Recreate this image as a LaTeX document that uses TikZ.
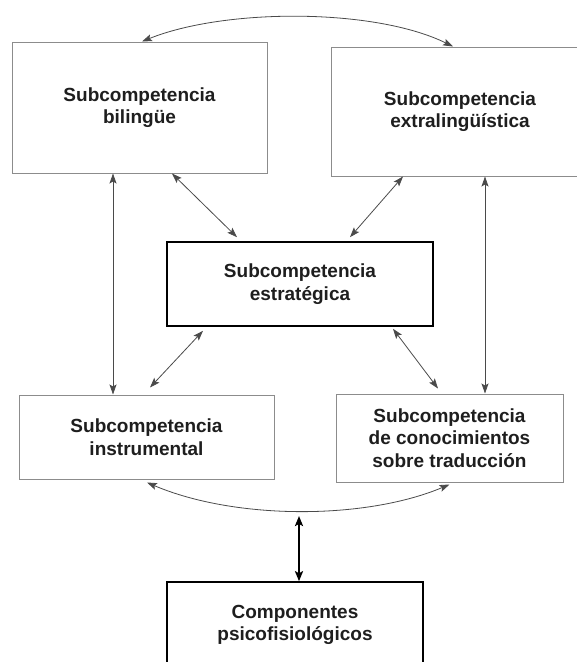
\documentclass[tikz,border=0pt]{standalone}
\usepackage{fontspec}
\setmainfont{Liberation Sans}
\usetikzlibrary{arrows.meta}
\definecolor{boxgray}{HTML}{8C8C8C}
\definecolor{linegray}{HTML}{4A4A4A}
\definecolor{inkdark}{HTML}{1E1E1E}
\tikzset{
every node/.style=
    {rectangle,
    align=center,
    text=inkdark,
    inner sep=0pt,
    font=\bfseries\fontsize{19}{22.5}\selectfont
    },
box/.style=
    {draw=boxgray,
    line width=1pt
    },
strongbox/.style=
    {draw=black,
    line width=1.6pt
    },
link/.style=
    {draw=linegray,
    line width=0.8pt,
    >={Stealth[length=10pt,width=7pt,inset=2pt]},
    <->
    },
biglink/.style=
    {draw=black,
    line width=2.4pt,
    >={Stealth[length=10pt,width=8pt,inset=2pt]},
    <->
    }}

\begin{document}
\begin{tikzpicture}[x=1pt,y=-1pt]
\useasboundingbox (0,0) rectangle (577,662);
\node[box,minimum width=255pt,minimum height=131pt] (bil) at (139.5,107.5) {Subcompetencia\\bilingüe};
\node[box,minimum width=258pt,minimum height=129pt] (ext) at (460,111.5) {Subcompetencia\\extralingüística};
\node[strongbox,minimum width=266pt,minimum height=84pt] (est) at (300,284) {Subcompetencia\\estratégica};
\node[box,minimum width=255pt,minimum height=84pt] (ins) at (146.5,437) {Subcompetencia\\instrumental};
\node[box,minimum width=227pt,minimum height=88pt] (con) at (449.5,438) {Subcompetencia\\de conocimientos\\sobre traducción};
\node[strongbox,minimum width=256pt,minimum height=86pt] (com) at (295,625) {Componentes\\psicofisiológicos};
\coordinate (hub) at (299,516);

\draw[link] ([xshift=2.5pt]bil.north) .. controls (225,8) and (375,8) .. ([xshift=-7pt]ext.north);
\draw[link] ([xshift=-26.5pt]bil.south) -- ([xshift=-33.5pt]ins.north);
\draw[link] ([xshift=25pt]ext.south) -- ([xshift=35.5pt]con.north);
\draw[link] ([xshift=32.5pt]bil.south) -- ([xshift=-63pt,yshift=4pt]est.north);
\draw[link] ([xshift=-57pt]ext.south) -- ([xshift=50pt,yshift=4pt]est.north);
\draw[link] ([xshift=-97pt,yshift=-4pt]est.south) -- ([xshift=3.5pt,yshift=7pt]ins.north);
\draw[link] ([xshift=93pt,yshift=-2pt]est.south) -- ([xshift=-11.5pt,yshift=5pt]con.north);
\draw[link] ([xshift=0.5pt,yshift=-3pt]ins.south) .. controls (235,520) and (365,520) .. ([yshift=-2pt]con.south);
\draw[biglink] (hub) -- ([xshift=4pt]com.north);

\end{tikzpicture}
\end{document}
